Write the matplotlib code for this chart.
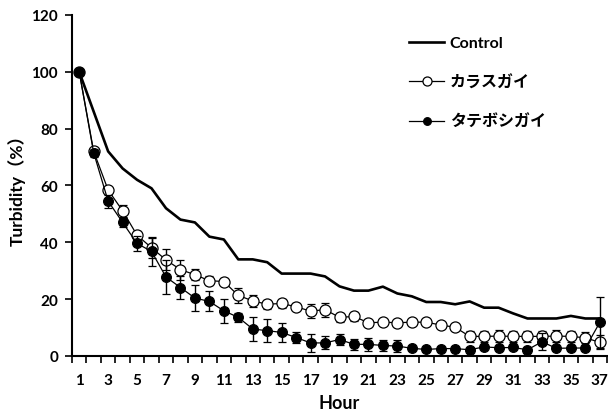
import matplotlib
matplotlib.use("Agg")
import matplotlib.pyplot as plt
from matplotlib.lines import Line2D
from matplotlib.ticker import FixedLocator, NullFormatter

hours = list(range(1, 38))
control = [100, 86, 72, 66, 62, 59, 52, 48, 47, 42, 41, 34, 34, 33, 29, 29, 29, 28, 24.5, 23,
           23, 24.4, 22, 21, 19, 19, 18.2, 19.2, 17, 17, 15, 13.2, 13.2, 13.2, 14.1, 13.2, 13.2]
karasu = [100, 72, 58.4, 51.1, 42.5, 38.1, 33.8, 30.4, 28.6, 26.5, 26.2, 21.3, 19.4, 18.2, 18.5,
          17.3, 15.8, 16.3, 13.6, 13.9, 11.7, 11.9, 11.7, 11.9, 11.9, 10.9, 10.1, 6.9, 6.9, 7.0,
          6.9, 6.9, 6.9, 7.0, 6.9, 6.4, 4.8]
karasu_err = [0, 1, 1, 2.2, 1.6, 3.5, 3.7, 3.5, 2, 1.5, 1.2, 2.6, 2, 1.5, 1.5, 1.2, 2.5, 2.5, 1.5,
              1.5, 1, 1, 1, 1, 1, 1, 1, 2, 2, 2, 2, 2, 2, 2, 2, 2, 2.5]
tatebo = [100, 71.5, 54.5, 47.0, 39.6, 36.8, 27.8, 24.1, 20.4, 19.2, 15.9, 13.6, 9.5, 8.9, 8.3,
          6.5, 4.6, 4.6, 5.8, 4.1, 4.1, 3.7, 3.5, 2.7, 2.3, 2.6, 2.6, 2.2, 3.2, 2.9, 3.0, 2.2,
          5.0, 2.7, 2.8, 2.8, 11.8]
tatebo_err = [0, 1.5, 2.3, 1.5, 2.6, 5, 6, 4.1, 4.7, 3.5, 4.3, 1.5, 4.3, 4.1, 3.4, 2, 3.2, 2.3,
              1.8, 2, 2.3, 2, 2, 0.5, 0.5, 0.5, 0.5, 0.5, 0.5, 0.5, 0.5, 0.5, 3, 0.5, 0.5, 0.5, 8.9]
labels = ["Control", "カラスガイ", "タテボシガイ"]
xtick_labels = [str(h) for h in hours if h % 2 == 1]

FAM = ["Lato", "Noto Sans CJK JP", "DejaVu Sans"]
plt.rcParams["font.family"] = FAM
plt.rcParams["font.weight"] = "bold"

fig = plt.figure(figsize=(6.08, 4.14), dpi=100)
ax = fig.add_axes([0.1184, 0.1377, 0.880, 0.8237])

ax.plot(hours, control, color="black", lw=1.9, zorder=3)
ax.errorbar(hours, karasu, yerr=karasu_err, color="black", lw=0.9, marker="o", ms=8,
            mfc="white", mec="black", mew=0.9, ecolor="black", elinewidth=1.0,
            capsize=3, capthick=1.0, zorder=4)
ax.errorbar(hours, tatebo, yerr=tatebo_err, color="black", lw=0.9, marker="o", ms=7,
            mfc="black", mec="black", mew=0.9, ecolor="black", elinewidth=1.0,
            capsize=3, capthick=1.0, zorder=5)

ax.set_xlim(0.5, 37.5)
ax.set_ylim(0, 120)
ax.set_yticks(range(0, 121, 20))
ax.xaxis.set_major_locator(FixedLocator([h - 0.5 for h in hours] + [37.5]))
ax.xaxis.set_major_formatter(NullFormatter())
ax.set_xticks([h for h in hours if h % 2 == 1], minor=True)
ax.set_xticklabels(xtick_labels, minor=True)
ax.tick_params(axis="x", which="major", direction="out", length=5, width=1.2)
ax.tick_params(axis="x", which="minor", length=0, pad=12, labelsize=11)
ax.tick_params(axis="y", direction="out", length=5, width=1.2, pad=5, labelsize=11)
for lab in ax.get_xticklabels(minor=True) + ax.get_yticklabels():
    lab.set_fontweight("bold")

for s in ["top", "right"]:
    ax.spines[s].set_visible(False)
for s in ["left", "bottom"]:
    ax.spines[s].set_linewidth(1.5)

ax.set_xlabel("Hour", fontsize=13, fontweight="bold", labelpad=5)
ax.set_ylabel("Turbidity（%）", fontsize=12.5, fontweight="bold", labelpad=4)

handles = [
    Line2D([], [], color="black", lw=1.9),
    Line2D([], [], color="black", lw=0.9, marker="o", ms=6.5, mfc="white", mec="black", mew=0.9),
    Line2D([], [], color="black", lw=0.9, marker="o", ms=5.5, mfc="black", mec="black", mew=0.9),
]
leg = ax.legend(handles, labels, loc="upper left", bbox_to_anchor=(0.603, 0.98), frameon=False,
                prop={"family": FAM, "weight": "bold", "size": 11.5},
                handlelength=2.2, handletextpad=0.35, labelspacing=1.52)

fig.savefig("out.png", dpi=100)
